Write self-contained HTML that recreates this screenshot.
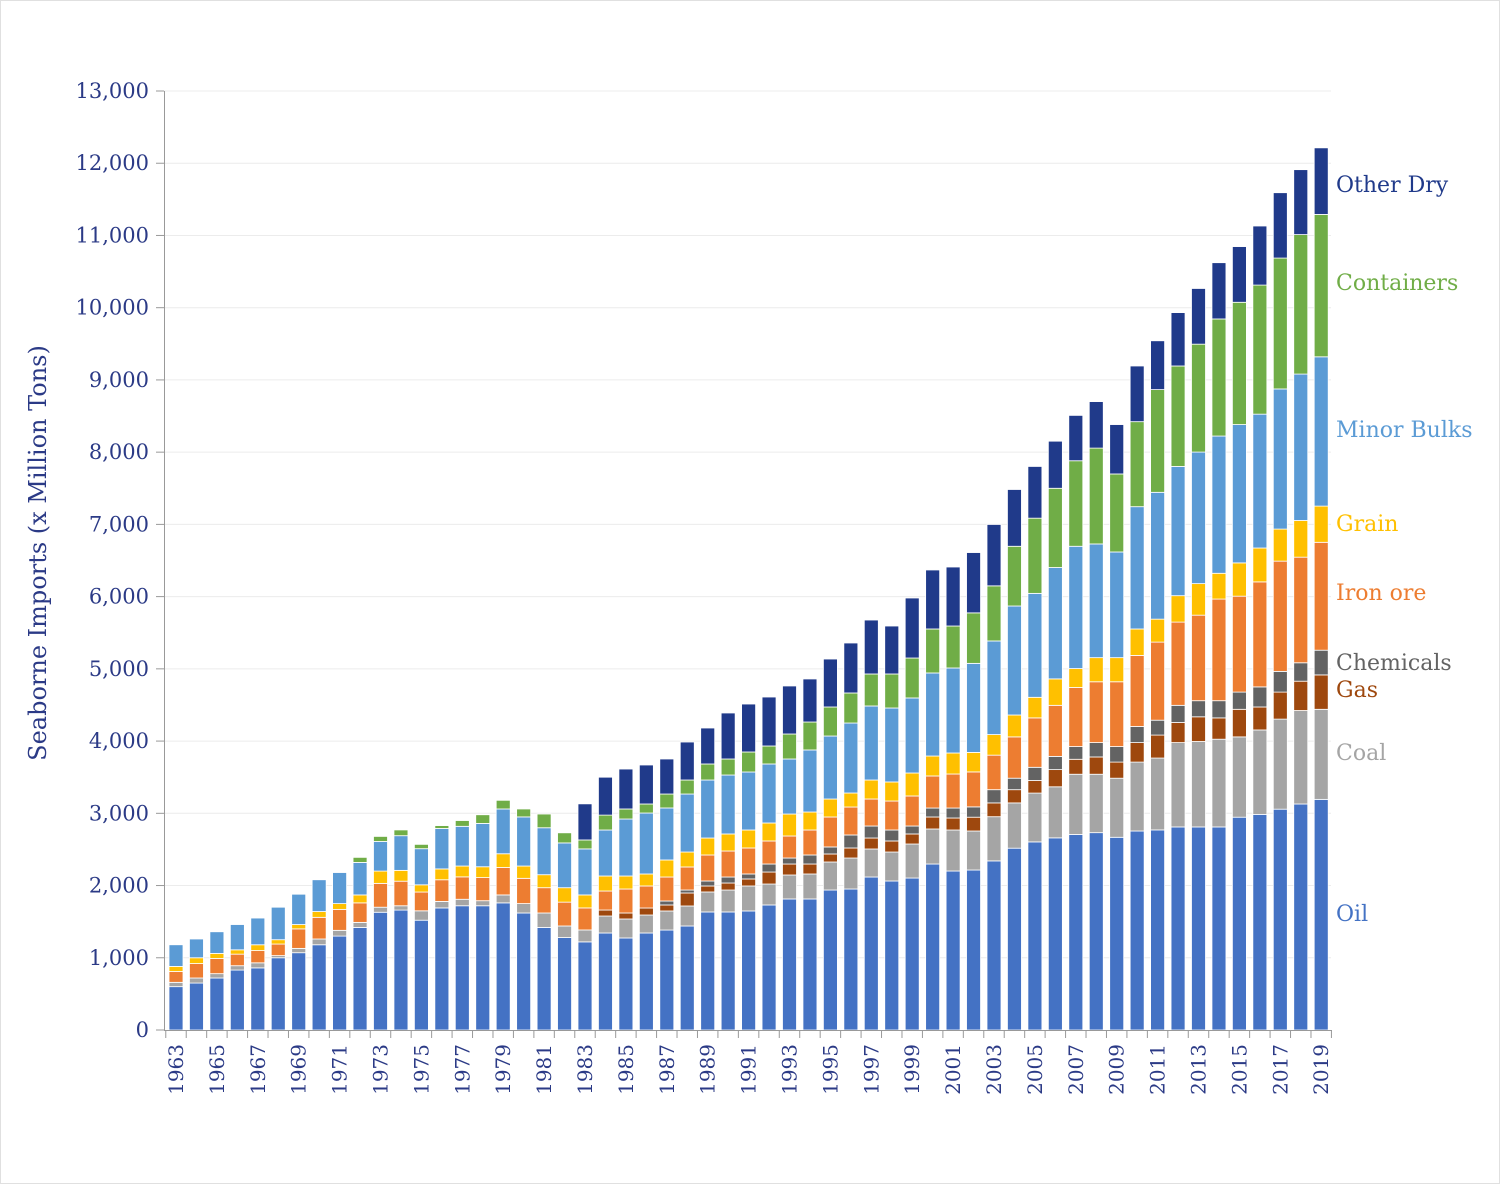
<!DOCTYPE html>
<html><head><meta charset="utf-8"><style>
html,body{margin:0;padding:0;background:#fff}
#wrap{position:relative;width:1498px;height:1182px;border:1px solid #e0e0e0;overflow:hidden}
svg text{font-family:"DejaVu Serif","Liberation Serif",serif}
</style></head><body>
<div id="wrap">
<svg id="chart" width="1498" height="1182"></svg>
</div>
<script>
const years = [];
for (let y = 1963; y <= 2019; y++) years.push(y);
const oil = [600,650,720,830,860,1000,1070,1180,1300,1420,1630,1660,1520,1690,1720,1720,1760,1620,1420,1280,1220,1343,1274,1343,1384,1440,1634,1634,1648,1731,1814,1814,1938,1952,2118,2063,2104,2298,2201,2215,2341,2517,2604,2660,2707,2732,2668,2755,2770,2811,2811,2811,2946,2985,3057,3129,3193];
const coal = [60,70,60,60,70,30,60,80,80,70,70,60,130,90,90,70,110,130,200,160,165,235,263,249,264,277,277,304,346,290,332,346,388,429,388,401,471,485,568,540,612,627,676,707,834,809,818,954,995,1168,1183,1215,1112,1169,1247,1294,1247];
const gas = [0,0,0,0,0,0,0,0,0,0,0,0,0,0,0,0,0,0,0,0,0,83,83,97,83,180,83,97,97,166,152,138,111,139,152,153,139,166,166,191,191,183,174,238,207,239,223,270,318,278,342,295,382,318,374,406,476];
const chem = [0,0,0,0,0,0,0,0,0,0,0,0,0,0,0,0,0,0,0,0,0,0,0,0,55,41,69,83,69,111,83,125,97,180,166,152,110,124,138,143,183,159,183,183,176,199,215,223,206,238,223,238,238,278,287,255,342];
const ironOre = [150,200,210,160,170,160,270,300,290,270,330,340,260,300,310,320,380,350,350,330,305,263,332,305,332,319,360,360,360,319,305,346,415,387,374,401,416,444,471,484,478,572,684,707,818,842,897,984,1081,1152,1184,1407,1328,1454,1526,1462,1494];
const grain = [70,80,70,60,80,60,60,80,80,110,170,150,100,150,150,150,190,170,180,200,180,208,180,166,236,207,235,236,249,249,304,249,249,194,263,264,318,276,291,270,285,303,285,366,262,334,334,366,318,366,437,357,461,469,444,508,501];
const minorBulks = [300,260,300,350,370,450,420,440,430,450,410,480,500,560,550,600,620,680,650,620,637,637,789,844,720,803,803,816,803,817,762,859,872,969,1025,1024,1039,1150,1177,1233,1296,1509,1439,1542,1693,1574,1463,1693,1756,1789,1821,1900,1915,1853,1940,2027,2067];
const containers = [0,0,0,0,0,0,0,0,0,70,70,80,60,40,80,120,120,110,190,140,124,206,139,125,193,194,222,222,277,249,346,387,402,416,443,471,553,609,581,699,763,827,1041,1097,1184,1327,1080,1177,1422,1391,1494,1621,1693,1787,1812,1931,1971];
const otherDry = [0,0,0,0,0,0,0,0,0,0,0,0,0,0,0,0,0,0,0,0,500,525,553,540,485,526,498,637,664,678,665,596,664,692,747,664,831,817,817,835,850,786,716,652,628,644,684,771,676,739,771,779,771,818,905,899,922];
const yTicks = [0,1000,2000,3000,4000,5000,6000,7000,8000,9000,10000,11000,12000,13000];
const seriesNames = ["Oil","Coal","Gas","Chemicals","Iron ore","Grain","Minor Bulks","Containers","Other Dry"];
const seriesData = [oil,coal,gas,chem,ironOre,grain,minorBulks,containers,otherDry];
const colors = ["#4472C4","#A5A5A5","#9E480E","#636363","#ED7D31","#FFC000","#5B9BD5","#70AD47","#203A8A"];
const legendY = [912,751,688,661,591,522,428,281,183];

const NS = "http://www.w3.org/2000/svg";
const svg = document.getElementById('chart');
function mk(tag, attrs, parent){const e=document.createElementNS(NS,tag);for(const k in attrs)e.setAttribute(k,attrs[k]);(parent||svg).appendChild(e);return e;}
const y0 = 1029, yTop = 90, vMax = 13000;
function yS(v){return y0 - v/vMax*(y0-yTop);}
const x0 = 175, step = 20.45, bw = 14;
function xS(i){return x0 + step*i;}
const navy = "#2B3A86";

yTicks.forEach(t=>{
  if(t>0){const g=mk('line',{x1:163,x2:1330,y1:yS(t),y2:yS(t),stroke:'#ececec','stroke-width':1});
  
  }
  const tk=mk('line',{x1:155,x2:163,y1:yS(t),y2:yS(t),stroke:'#999','stroke-width':1});
  
  
  const tx=mk('text',{x:148,y:yS(t)+7,'text-anchor':'end','font-size':21,fill:navy});
  tx.textContent=t.toLocaleString('en-US');
  
  
});

years.forEach((yr,i)=>{
  let base=0;
  seriesData.forEach((s,k)=>{
    const v=s[i]; if(!v) return;
    const r=mk('rect',{x:xS(i)-bw/2,y:yS(base+v),width:bw,height:yS(base)-yS(base+v),fill:colors[k],stroke:'#fff','stroke-width':0.8});
    
    
    base+=v;
  });
});

const ya=mk('line',{x1:163.5,x2:163.5,y1:yTop,y2:y0,stroke:'#999','stroke-width':1});


const xa=mk('line',{x1:163,x2:1331,y1:y0+0.5,y2:y0+0.5,stroke:'#999','stroke-width':1});


for(let i=0;i<=years.length;i++){
  const xx=xS(i)-step/2;
  const t=mk('line',{x1:xx,x2:xx,y1:y0,y2:y0+8,stroke:'#999','stroke-width':1});
  
  
}
years.forEach((yr,i)=>{
  if(i%2) return;
  const tx=mk('text',{x:0,y:0,'text-anchor':'end','font-size':20,fill:navy,transform:`translate(${xS(i)+7},1043) rotate(-90)`});
  tx.textContent=yr;
  
  
});

const yt=mk('text',{x:0,y:0,'text-anchor':'middle','font-size':24,fill:navy,transform:'translate(45,552) rotate(-90)'});
yt.textContent='Seaborne Imports (x Million Tons)';



seriesNames.forEach((n,k)=>{
  const t=mk('text',{x:1335,y:legendY[k]+8,'font-size':22,fill:colors[k]});
  t.textContent=n;
  
  
});
</script>
</body></html>
